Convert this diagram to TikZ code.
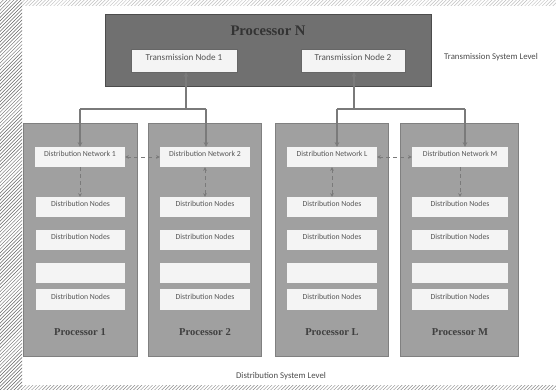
\documentclass[tikz,border=0pt]{standalone}
\usepackage{fontspec}
\setmainfont{Carlito}
\newfontfamily\serifb{Liberation Serif}
\usetikzlibrary{fit,arrows.meta,patterns}
\definecolor{darkbox}{HTML}{707070}
\definecolor{procbox}{HTML}{A0A0A0}
\definecolor{innerbox}{HTML}{F4F4F4}
\definecolor{txt}{HTML}{555555}
\definecolor{conn}{HTML}{7A7A7A}
\begin{document}
\begin{tikzpicture}[x=0.03cm,y=-0.03cm,
  procN/.style={draw=black!70,line width=0.8pt,fill=darkbox,inner sep=0pt},
  proc/.style={draw=procbox!80!black,line width=0.4pt,fill=procbox,inner sep=0pt},
  inner/.style={draw=none,fill=innerbox,inner sep=0pt,text=txt,font=\fontsize{6.6}{7}\selectfont},
  tnode/.style={draw=black!60,line width=0.4pt,fill=innerbox,inner sep=0pt,text=txt,font=\fontsize{7.8}{8}\selectfont},
  plabel/.style={font=\serifb\bfseries\fontsize{9}{10}\selectfont,text=black!75},
  lvl/.style={font=\fontsize{7.5}{8}\selectfont,text=black!70},
  conline/.style={draw=conn,line width=1.3pt},
  conarrow/.style={conline,-{Stealth[length=4pt,width=4pt]}},
  dasharrow/.style={draw=conn,line width=0.6pt,dashed,{Stealth[length=3pt,width=3pt]}-{Stealth[length=3pt,width=3pt]}},
  dashdown/.style={draw=conn,line width=0.6pt,dashed,-{Stealth[length=3pt,width=3pt]}}
]
\useasboundingbox (0,0) rectangle (556,390);
\fill[white] (0,0) rectangle (556,390);
% page edge hatching
\fill[pattern=north east lines,pattern color=black!60] (0,0) rectangle (22,390);
\fill[pattern=north east lines,pattern color=black!45] (22,385) rectangle (556,390);
\fill[pattern=north east lines,pattern color=black!25] (22,0) rectangle (556,5);

% Processor N
\node[procN,fit={(105,14)(431,86)}] (pn) {};
\node[font=\serifb\bfseries\fontsize{12.5}{13}\selectfont,text=black!80] (pnt) at (268,31) {Processor N};
\node[tnode,fit={(131,49)(237,72)}] (tn1) {Transmission Node 1};
\node[tnode,fit={(301,49)(405,72)}] (tn2) {Transmission Node 2};
\node[lvl,anchor=west] (tsl) at (440,57) {Transmission System Level};

% Processors
\node[proc,fit={(23,123)(137,356)}] (p1) {};
\node[proc,fit={(148,123)(261,356)}] (p2) {};
\node[proc,fit={(275,123)(388,356)}] (pl) {};
\node[proc,fit={(400,123)(518,356)}] (pm) {};

\node[plabel] (p1t) at (80,332) {Processor 1};
\node[plabel] (p2t) at (205,332) {Processor 2};
\node[plabel] (plt) at (332,332) {Processor L};
\node[plabel] (pmt) at (460,332) {Processor M};

% Distribution networks
\node[inner,fit={(35,147)(125,167)}] (dn1) {Distribution Network 1};
\node[inner,fit={(160,147)(250,167)}] (dn2) {Distribution Network 2};
\node[inner,fit={(287,147)(377,167)}] (dnl) {Distribution Network L};
\node[inner,fit={(412,147)(508,167)}] (dnm) {Distribution Network M};

% Distribution node rows
\foreach \nm/\xa/\xb in {a/36/125,b/160/250,c/287/377,d/412/508}{
  \node[inner,fit={(\xa,197)(\xb,217)}] (\nm1) {Distribution Nodes};
  \node[inner,fit={(\xa,230)(\xb,250)}] (\nm2) {Distribution Nodes};
  \node[inner,fit={(\xa,263)(\xb,283)}] (\nm3) {};
  \node[inner,fit={(\xa,289)(\xb,310)}] (\nm4) {Distribution Nodes};
}

\node[lvl] (dsl) at (281,376) {Distribution System Level};

% connectors from transmission nodes
\coordinate (j1) at (186,109);
\coordinate (j1l) at (80,109);
\coordinate (j1r) at (206,109);
\coordinate (j2) at (354,109);
\coordinate (j2l) at (337,109);
\coordinate (j2r) at (465,109);
\draw[conarrow] (j1) -- (j1 |- tn1.south);
\draw[conline] (j1l) -- (j1r);
\draw[conarrow] (j1l) -- (j1l |- dn1.north);
\draw[conarrow] (j1r) -- (j1r |- dn2.north);
\draw[conarrow] (j2) -- (j2 |- tn2.south);
\draw[conline] (j2l) -- (j2r);
\draw[conarrow] (j2l) -- (j2l |- dnl.north);
\draw[conarrow] (j2r) -- (j2r |- dnm.north);

% dashed links
\draw[dasharrow] (dn1.east) -- (dn2.west);
\draw[dasharrow] (dnl.east) -- (dnm.west);
\draw[dashdown] (dn1.south) -- (a1.north -| dn1.south);
\draw[dasharrow] (dn2.south) -- (b1.north -| dn2.south);
\draw[dasharrow] (dnl.south) -- (c1.north -| dnl.south);
\draw[dashdown] (dnm.south) -- (d1.north -| dnm.south);
\end{tikzpicture}
\end{document}
